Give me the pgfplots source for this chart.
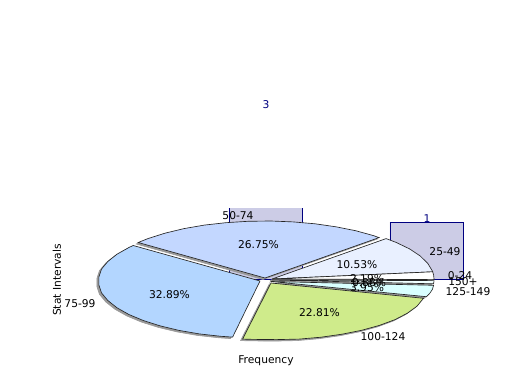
\documentclass[border=0pt]{standalone}
\usepackage{fontspec}
\setmainfont{DejaVu Sans}
\usepackage{pgfplots}
\usepackage{pgfplotstable}
\pgfplotsset{compat=1.18}
\definecolor{barfill}{HTML}{CCCCE6}
\definecolor{barline}{HTML}{000080}
\definecolor{wA}{HTML}{C3D7FF}
\definecolor{wB}{HTML}{E9F0FF}
\definecolor{wC}{HTML}{FFFFFF}
\definecolor{wD}{HTML}{F0FFFF}
\definecolor{wE}{HTML}{D9FFFF}
\definecolor{wF}{HTML}{CFEB8B}
\definecolor{wG}{HTML}{B3D6FF}
\pgfplotstableread{
x y
265 278
138.2 242.5
148.5 238.4
165.3 233.1
184 228.6
204.3 225.1
225.8 222.7
248.1 221.3
270.7 221.0
293.1 221.9
315.1 223.8
336 226.8
355.6 230.7
373.4 235.6
379.1 237.6
265 278
}\wedgeA
\pgfplotstableread{
x y
272 279
386.1 238.6
396.1 242.4
409.4 248.8
420 255.8
427.7 263.3
432.4 271.1
432.7 271.8
272 279
}\wedgeB
\pgfplotstableread{
x y
272 279
432.7 271.8
433.6 275
434 279
434 279.6
272 279
}\wedgeC
\pgfplotstableread{
x y
272 280
434 280.6
433.6 283.8
272 280
}\wedgeD
\pgfplotstableread{
x y
271 281.5
433.6 285.3
432.4 289.4
430 293
426.5 296.7
271 281.5
}\wedgeE
\pgfplotstableread{
x y
271 283
423.5 298.3
417 306.2
407.4 313.2
395.1 319.6
379.4 325.4
361.6 330.3
342 334.2
321.1 337.2
299.1 339.1
276.7 339.6
254.1 339.4
242.6 339.1
271 283
}\wedgeF
\pgfplotstableread{
x y
260 281
232.6 337.1
220.8 336.3
199.3 333.9
179 330.4
160.3 325.9
143.5 320.6
128.9 314.5
117 307.8
107.8 300.5
101.5 292.9
98.9 285
98.9 277
101.5 269.1
107.8 261.5
117 254.2
128.9 247.5
133.2 245.5
260 281
}\wedgeG
\newcommand{\shadowplot}[1]{\addplot[fill=black!40,draw=black!40,line width=0.6pt,forget plot]
  table[x expr=\thisrow{x}-2,y expr=\thisrow{y}+1.5]{#1};}
\newcommand{\wedgeplot}[2]{\addplot[fill=#2,draw=black!85,line width=0.65pt,line join=miter,forget plot] table[x=x,y=y]{#1};}
\begin{document}
\begin{tikzpicture}
\useasboundingbox (0,0) rectangle (520pt,390pt);
\begin{axis}[at={(0,0)},anchor=south west,scale only axis,width=520pt,height=390pt,hide axis,
  xmin=-0.649,xmax=2.581,ymin=-1.947,ymax=4.895]
\addplot[ybar,bar width=0.4534,bar shift=0pt,fill=barfill,draw=barline,line width=0.7pt,forget plot]
  coordinates {(1,3) (2,1)};
\addplot[fill=white,draw=none,forget plot] coordinates {(0.7,1.246) (1.3,1.246) (1.3,3.02) (0.7,3.02) (0.7,1.246)};
\end{axis}
\begin{axis}[at={(0,0)},anchor=south west,scale only axis,width=520pt,height=390pt,hide axis,
  xmin=0,xmax=520,ymin=0,ymax=390,y dir=reverse,clip=false,
  nodes={font=\fontsize{10.7}{12}\selectfont,text=black,inner sep=0pt}]
\shadowplot{\wedgeA}\shadowplot{\wedgeB}\shadowplot{\wedgeC}\shadowplot{\wedgeD}
\shadowplot{\wedgeE}\shadowplot{\wedgeF}\shadowplot{\wedgeG}
\wedgeplot{\wedgeA}{wA}\wedgeplot{\wedgeB}{wB}\wedgeplot{\wedgeC}{wC}\wedgeplot{\wedgeD}{wD}
\wedgeplot{\wedgeE}{wE}\wedgeplot{\wedgeF}{wF}\wedgeplot{\wedgeG}{wG}
\node at (axis cs:266,105) {\textcolor{barline}{3}};
\node at (axis cs:427,219) {\textcolor{barline}{1}};
\node at (axis cs:258.5,244.5) {26.75\%};
\node at (axis cs:357,264.5) {10.53\%};
\node at (axis cs:169.5,294.5) {32.89\%};
\node at (axis cs:319.5,312.5) {22.81\%};
\node at (axis cs:367,278.5) {2.19\%};
\node at (axis cs:369,282.5) {0.88\%};
\node at (axis cs:367,287.5) {3.95\%};
\node at (axis cs:238,216) {50-74};
\node at (axis cs:445,251.5) {25-49};
\node at (axis cs:460,276) {0-24};
\node at (axis cs:463,282) {150+};
\node at (axis cs:468,292) {125-149};
\node at (axis cs:383,336.5) {100-124};
\node at (axis cs:80,303.5) {75-99};
\node at (axis cs:266,360.5) {Frequency};
\node[rotate=90] at (axis cs:57,280) {Stat Intervals};
\end{axis}
\end{tikzpicture}
\end{document}
